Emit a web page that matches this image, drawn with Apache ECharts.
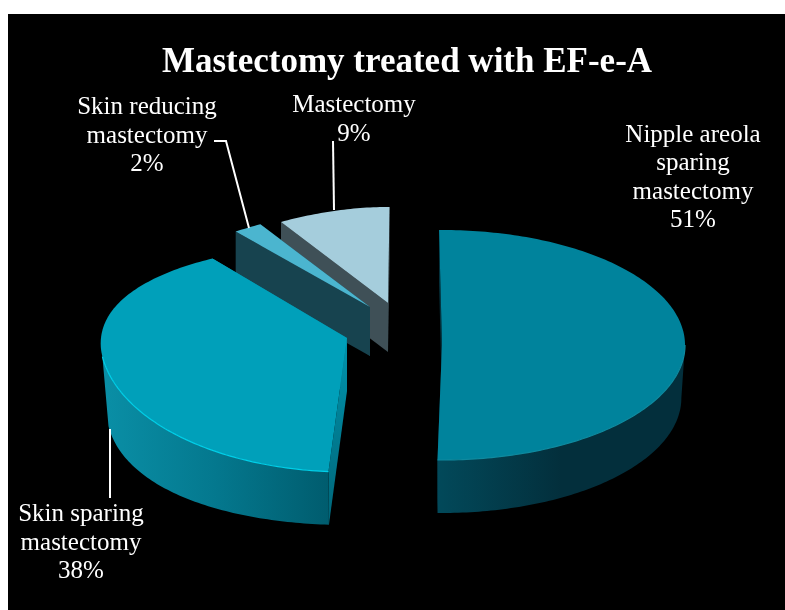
<!DOCTYPE html>
<html>
<head>
<meta charset="utf-8">
<style>
html, body { margin: 0; padding: 0; background: #fff; }
#main { width: 785px; height: 610px; }
</style>
<script src="https://cdn.jsdelivr.net/npm/echarts@6/dist/echarts.min.js"></script>
</head>
<body>
<div id="main"></div>
<script>
var titleText = 'Mastectomy treated with EF-e-A';
var categories = ['Nipple areola\nsparing\nmastectomy', 'Skin sparing\nmastectomy', 'Skin reducing\nmastectomy', 'Mastectomy'];
var shares = [51, 38, 2, 9];

var FONT = '"Liberation Serif", serif';

// how each exploded slice is projected, hand fitted to the picture
var sliceLayout = [
    { cx: 442, cy: 345, rx: 243, ryBack: 115, ryFront: 115, depth: 53, flare: 0, k: 0, shiftZ: 0, bottom: 0.985, rot: -0.7, stretch: 0.99,
      top: '#00839c', rim: '#0f8a9f', wall: ['#02495a', '#032f3c', '#032f3c'], cut: '#03333f', cutLow: '#03333f' },
    { cx: 347, cy: 338, rx: 247, ryBack: 94, ryFront: 134, depth: 53, flare: 17, k: 0.205, shiftZ: 0.14, bottom: 0.975, rot: 0.7, stretch: 0.995,
      top: '#00a0ba', rim: '#00cfe8', wall: ['#0a8fa6', '#04788e', '#005c6e'], cut: '#0094ad', cutLow: '#006578' },
    { cx: 370, cy: 307, rx: 247, ryBack: 98, ryFront: 98, depth: 49, flare: 0, k: 0.29, shiftZ: 0, bottom: 1, rot: 0, stretch: 1,
      top: '#4bb5cf', wall: ['#17434f', '#17434f', '#17434f'], cut: '#17434f', cutLow: '#17434f' },
    { cx: 388, cy: 303, rx: 241, ryBack: 96, ryFront: 96, depth: 49, flare: 0, k: 0.29, shiftZ: 0, bottom: 1, rot: 0, stretch: 1.015,
      top: '#a5cddc', wall: ['#3f5057', '#3f5057', '#3f5057'], cut: '#3f5057', cutLow: '#3f5057' }
];
var labelLayout = [
    { x: 693, y: 178 },
    { x: 81, y: 543 },
    { x: 147, y: 136 },
    { x: 354, y: 120 }
];
var leaderLines = [
    [[214, 141], [226, 141], [249, 228]],
    [[333, 141], [334, 210]],
    [[110, 429], [110, 498]]
];

var total = shares.reduce(function(a, b) { return a + b }, 0);
var startAngles = [];
var sum = 0;
shares.forEach(function(v) {
    startAngles.push(sum / total * 360);
    sum += v;
});

function project(l, deg, low) {
    var t = deg * Math.PI / 180;
    var X = Math.sin(t), Z = Math.cos(t);
    var zs = Math.max(Z + l.shiftZ, 0);
    var x = l.rx * X / (1 + l.k * zs * zs);
    // the far half is flattened, blended so the outline has no kink
    var ry = Z > 0 ? l.ryFront + (l.ryBack - l.ryFront) * Z : l.ryFront;
    var y = -Z * ry;
    if (low) {
        return [l.cx + x * l.bottom, l.cy + y + l.depth + l.flare * X * X];
    }
    return [l.cx + x, l.cy + y];
}

function arc(l, from, to, low) {
    var pts = [];
    var n = Math.max(2, Math.ceil(Math.abs(to - from)));
    for (var i = 0; i <= n; i++) {
        pts.push(project(l, from + (to - from) * i / n, low));
    }
    return pts;
}

function cutFace(l, deg) {
    var apex = [l.cx, l.cy];
    var apexLow = [l.cx, l.cy + l.depth];
    return {
        type: 'polygon',
        shape: { points: [apex, project(l, deg, false), project(l, deg, true), apexLow] },
        style: {
            fill: new echarts.graphic.LinearGradient(0, 0, 0, 1, [
                { offset: 0, color: l.cut },
                { offset: 1, color: l.cutLow }
            ])
        }
    };
}

function renderSlice(params, api) {
    var idx = api.value(0);
    var l = sliceLayout[idx];
    var from = startAngles[idx] + l.rot;
    var to = from + shares[idx] / total * 360 * l.stretch;
    // far cut face first, the near one hides it
    var children = [cutFace(l, to), cutFace(l, from)];

    // outer wall only shows on the front half, up to the left tangent
    var wallFrom = Math.max(from, 90), wallTo = Math.min(to, 262);
    if (wallTo > wallFrom) {
        children.push({
            type: 'polygon',
            shape: { points: arc(l, wallFrom, wallTo, false).concat(arc(l, wallTo, wallFrom, true)) },
            style: {
                fill: new echarts.graphic.LinearGradient(idx == 1 ? 0 : 1, 0, idx == 1 ? 1 : 0, 0, [
                    { offset: 0, color: idx == 1 ? l.wall[0] : l.wall[2] },
                    { offset: 0.5, color: l.wall[1] },
                    { offset: 1, color: idx == 1 ? l.wall[2] : l.wall[0] }
                ])
            }
        });
    }

    children.push({
        type: 'polygon',
        shape: { points: [[l.cx, l.cy]].concat(arc(l, from, to, false)) },
        style: { fill: l.top }
    });

    if (l.rim && wallTo > wallFrom) {
        children.push({
            type: 'polyline',
            shape: { points: arc(l, wallFrom, wallTo, false) },
            style: { stroke: l.rim, lineWidth: 1.2, fill: null }
        });
    }

    children.push({
        type: 'text',
        style: {
            text: categories[idx] + '\n' + shares[idx] + '%',
            x: labelLayout[idx].x,
            y: labelLayout[idx].y,
            align: 'center',
            verticalAlign: 'middle',
            fill: '#fff',
            font: '25px ' + FONT,
            lineHeight: 28.5
        },
        z2: 10
    });

    return { type: 'group', children: children };
}

var myChart = echarts.init(document.getElementById('main'));

var graphicItems = [{
    type: 'rect',
    z: -1,
    shape: { x: 8, y: 14, width: 777, height: 596 },
    style: { fill: '#000' }
}];
leaderLines.forEach(function(pts) {
    graphicItems.push({
        type: 'polyline',
        z: 20,
        shape: { points: pts },
        style: { stroke: '#fff', lineWidth: 2, fill: null }
    });
});

// back slices first, the big front ones paint over them
var drawOrder = [3, 2, 1, 0];

var option = {
    backgroundColor: '#fff',
    animation: false,
    title: {
        text: titleText,
        left: 402,
        top: 58,
        textAlign: 'center',
        textVerticalAlign: 'middle',
        textStyle: { color: '#fff', fontFamily: FONT, fontWeight: 'bold', fontSize: 35 }
    },
    graphic: graphicItems,
    series: [{
        type: 'custom',
        coordinateSystem: 'none',
        silent: true,
        renderItem: renderSlice,
        data: drawOrder.map(function(i) { return [i, shares[i]] })
    }]
};

myChart.setOption(option);
</script>
</body>
</html>
